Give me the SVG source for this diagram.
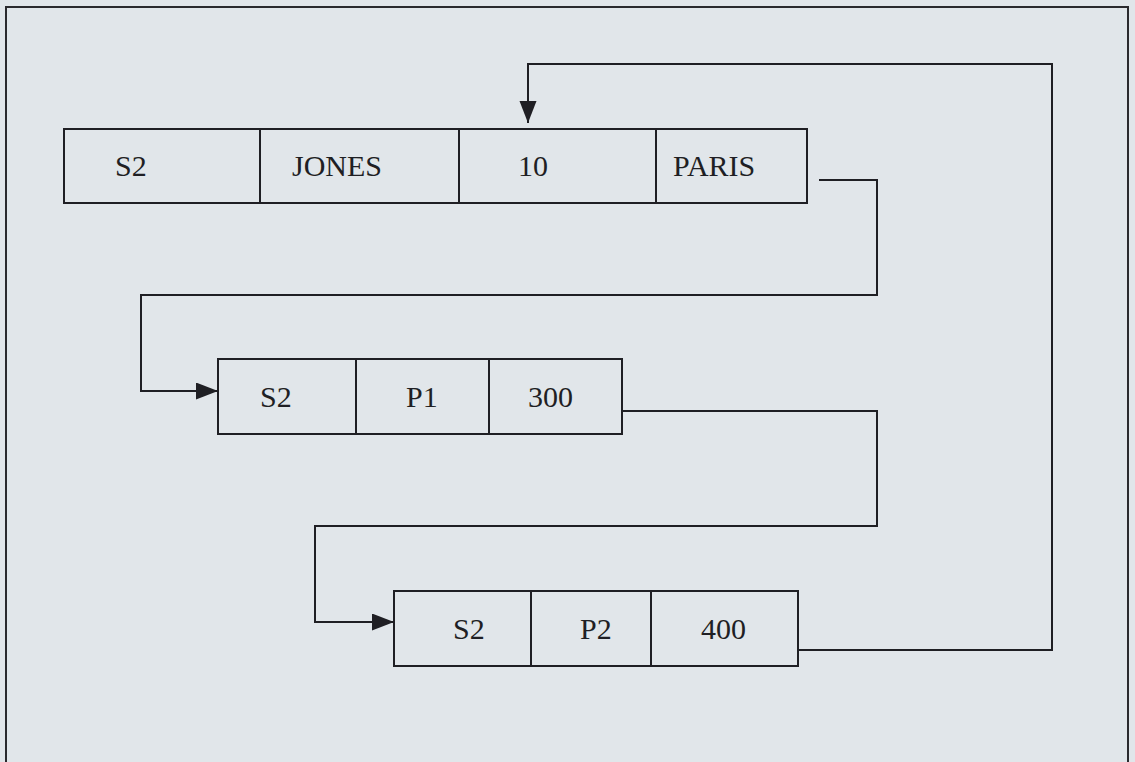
<svg xmlns="http://www.w3.org/2000/svg" width="1135" height="762" viewBox="0 0 1135 762">
<style>
.cell{fill:none;stroke:#1f1f24;stroke-width:2}
.t{font-family:"Liberation Serif","Times New Roman",serif;font-size:30px;fill:#1f1f24}
.c{fill:none;stroke:#1f1f24;stroke-width:2}
.frame{fill:none;stroke:#2a2a2e;stroke-width:2}
</style>
<defs>
<marker id="arr" markerUnits="userSpaceOnUse" markerWidth="22" markerHeight="18" refX="22" refY="8.5" orient="auto">
<path d="M0,0 L22,8.5 L0,17 Z" fill="#1f1f24"/>
</marker>
</defs>
<rect width="1135" height="762" fill="#e1e6ea"/>
<path class="frame" d="M6,770 V7 H1128 V770"/>
<g id="record1">
<rect class="cell" x="64" y="129" width="743" height="74"/>
<line class="cell" x1="260" y1="129" x2="260" y2="203"/>
<line class="cell" x1="459" y1="129" x2="459" y2="203"/>
<line class="cell" x1="656" y1="129" x2="656" y2="203"/>
<text class="t" x="115" y="176">S2</text>
<text class="t" x="292" y="176">JONES</text>
<text class="t" x="518" y="176">10</text>
<text class="t" x="673" y="176">PARIS</text>
</g>
<g id="record2">
<rect class="cell" x="218" y="359" width="404" height="75"/>
<line class="cell" x1="356" y1="359" x2="356" y2="434"/>
<line class="cell" x1="489" y1="359" x2="489" y2="434"/>
<text class="t" x="260" y="407">S2</text>
<text class="t" x="406" y="407">P1</text>
<text class="t" x="528" y="407">300</text>
</g>
<g id="record3">
<rect class="cell" x="394" y="591" width="404" height="75"/>
<line class="cell" x1="531" y1="591" x2="531" y2="666"/>
<line class="cell" x1="651" y1="591" x2="651" y2="666"/>
<text class="t" x="453" y="639">S2</text>
<text class="t" x="580" y="639">P2</text>
<text class="t" x="701" y="639">400</text>
</g>
<g id="connectors">
<path class="c" d="M819,180 H877 V295 H141 V391 H218" marker-end="url(#arr)"/>
<path class="c" d="M622,411 H877 V526 H315 V622 H394" marker-end="url(#arr)"/>
<path class="c" d="M798,650 H1052 V64 H528 V123" marker-end="url(#arr)"/>
</g>
</svg>
